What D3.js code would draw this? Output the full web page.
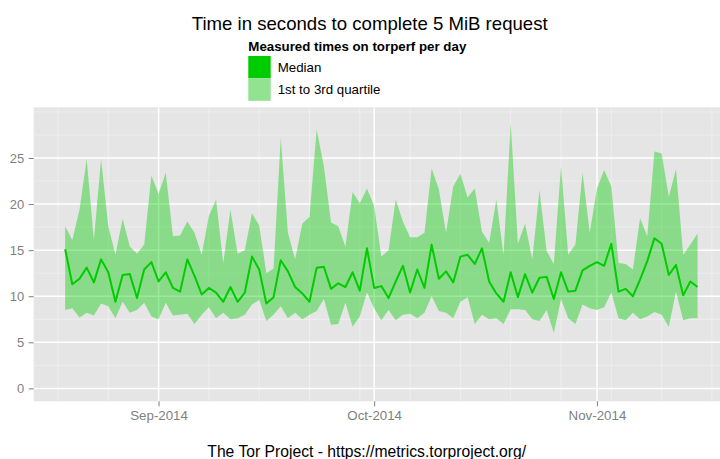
<!DOCTYPE html>
<html>
<head>
<meta charset="utf-8">
<script src="https://cdn.jsdelivr.net/npm/d3@7"></script>
<style>
  body { margin: 0; background: #ffffff; }
  svg { display: block; }
  text { font-family: "Liberation Sans", Arial, Helvetica, sans-serif; }
</style>
</head>
<body>
<svg id="chart" width="720" height="459"></svg>
<script>
// Torperf daily measurements: seconds to complete a 5 MiB request
const firstDay = "2014-08-19";

const median = [
  15.1, 11.3, 11.9, 13.1, 11.5, 14.0, 12.6, 9.4, 12.3, 12.4,
  9.8, 12.9, 13.7, 11.6, 12.6, 10.9, 10.5, 14.0, 12.2, 10.2,
  10.9, 10.4, 9.4, 11.0, 9.4, 10.4, 14.3, 12.9, 9.2, 9.9,
  13.9, 12.7, 11.0, 10.3, 9.4, 13.1, 13.2, 10.8, 11.4, 11.0,
  12.6, 10.6, 15.2, 10.9, 11.1, 9.8, 11.6, 13.3, 10.4, 12.9,
  10.9, 15.6, 11.9, 12.7, 11.5, 14.3, 14.5, 13.5, 15.2, 11.6,
  10.3, 9.4, 12.6, 9.9, 12.4, 10.4, 12.0, 12.1, 9.7, 12.6,
  10.5, 10.6, 12.8, 13.3, 13.7, 13.3, 15.7, 10.5, 10.8, 10.0,
  11.8, 13.8, 16.3, 15.7, 12.3, 13.4, 10.1, 11.6, 11.0
];

const q1 = [
  8.5, 8.7, 7.7, 8.2, 7.9, 9.2, 8.9, 7.6, 9.4, 8.2,
  8.5, 9.3, 7.8, 7.5, 9.3, 7.9, 8.0, 8.1, 7.0, 8.0,
  8.8, 7.6, 8.2, 7.5, 7.6, 8.0, 9.1, 9.6, 7.3, 8.0,
  8.9, 7.6, 8.2, 7.5, 8.0, 8.4, 9.7, 6.9, 7.0, 9.3,
  6.7, 7.8, 10.4, 8.7, 7.4, 8.5, 7.4, 8.0, 8.1, 7.6,
  8.2, 10.0, 8.4, 8.2, 7.6, 9.4, 9.9, 7.0, 8.0, 7.5,
  7.6, 7.0, 8.6, 8.6, 8.5, 7.5, 7.3, 8.5, 6.0, 9.7,
  7.6, 7.0, 9.1, 8.7, 8.5, 8.8, 10.4, 7.6, 7.4, 8.2,
  7.5, 7.8, 8.3, 8.0, 6.7, 10.5, 7.4, 7.6, 7.6
];

const q3 = [
  17.6, 16.1, 19.4, 24.9, 16.1, 24.9, 17.6, 14.5, 18.4, 15.4,
  14.6, 15.6, 23.1, 21.1, 23.4, 16.5, 16.6, 18.1, 16.9, 14.5,
  18.7, 20.5, 13.6, 19.4, 14.6, 15.0, 19.0, 17.7, 12.5, 13.0,
  27.2, 16.9, 14.0, 17.9, 18.6, 28.1, 24.1, 18.0, 17.6, 15.4,
  21.3, 20.1, 21.7, 19.8, 14.3, 15.0, 20.5, 18.1, 16.4, 16.4,
  16.9, 23.9, 21.6, 16.9, 21.9, 23.3, 20.7, 21.7, 17.0, 15.8,
  20.5, 14.5, 28.8, 15.7, 17.9, 14.0, 21.5, 14.9, 13.5, 24.1,
  14.5, 15.6, 23.4, 16.9, 21.7, 23.7, 21.9, 13.6, 13.5, 12.9,
  18.5, 16.5, 25.7, 25.5, 20.8, 23.8, 14.5, 15.6, 16.8
];

const yTicks = [0, 5, 10, 15, 20, 25];
const xTickDates = ["2014-09-01", "2014-10-01", "2014-11-01"];

const titleText = "Time in seconds to complete 5 MiB request";
const legendTitle = "Measured times on torperf per day";
const legendLabels = ["Median", "1st to 3rd quartile"];
const footerText = "The Tor Project - https://metrics.torproject.org/";

const lineColor = "#00CC00";
const ribbonAlpha = 0.4;

// ---- layout ----
const svg = d3.select("#chart");
const panel = { left: 33.7, right: 729, top: 107.3, bottom: 401.3 };

const parse = d3.utcParse("%Y-%m-%d");
const start = parse(firstDay);
const rows = median.map((m, i) => ({
  date: d3.utcDay.offset(start, i),
  median: m, q1: q1[i], q3: q3[i]
}));
const end = rows[rows.length - 1].date;

const x = d3.scaleUtc()
  .domain([d3.utcHour.offset(start, -105), d3.utcHour.offset(end, 105)])
  .range([panel.left, panel.right]);

const y = d3.scaleLinear()
  .domain([-1.4, 30.5])
  .range([panel.bottom, panel.top]);

svg.append("rect").attr("width", 720).attr("height", 459).attr("fill", "#ffffff");

svg.append("defs").append("clipPath").attr("id", "panel-clip")
  .append("rect")
  .attr("x", panel.left).attr("y", panel.top)
  .attr("width", panel.right - panel.left)
  .attr("height", panel.bottom - panel.top);

// panel background
svg.append("rect")
  .attr("x", panel.left).attr("y", panel.top)
  .attr("width", panel.right - panel.left)
  .attr("height", panel.bottom - panel.top)
  .attr("fill", "#E5E5E5");

const grid = svg.append("g").attr("clip-path", "url(#panel-clip)");

// minor grid: weekly (Mondays) and every 2.5 s
const minorX = d3.utcMonday.range(x.domain()[0], x.domain()[1]);
const majorX = xTickDates.map(parse);
const minorY = d3.range(2.5, 31, 2.5).filter(v => !yTicks.includes(v));

grid.selectAll(".minor-x").data(minorX).join("line")
  .attr("x1", d => x(d)).attr("x2", d => x(d))
  .attr("y1", panel.top).attr("y2", panel.bottom)
  .attr("stroke", "#F2F2F2").attr("stroke-width", 0.7);

grid.selectAll(".minor-y").data(minorY).join("line")
  .attr("x1", panel.left).attr("x2", panel.right)
  .attr("y1", d => y(d)).attr("y2", d => y(d))
  .attr("stroke", "#F2F2F2").attr("stroke-width", 0.7);

grid.selectAll(".major-x").data(majorX).join("line")
  .attr("x1", d => x(d)).attr("x2", d => x(d))
  .attr("y1", panel.top).attr("y2", panel.bottom)
  .attr("stroke", "#ffffff").attr("stroke-width", 1.5);

grid.selectAll(".major-y").data(yTicks).join("line")
  .attr("x1", panel.left).attr("x2", panel.right)
  .attr("y1", d => y(d)).attr("y2", d => y(d))
  .attr("stroke", "#ffffff").attr("stroke-width", 1.5);

// quartile ribbon
const area = d3.area()
  .x(d => x(d.date))
  .y0(d => y(d.q1))
  .y1(d => y(d.q3));

grid.append("path")
  .datum(rows)
  .attr("d", area)
  .attr("fill", lineColor)
  .attr("fill-opacity", ribbonAlpha);

// median line
const line = d3.line()
  .x(d => x(d.date))
  .y(d => y(d.median));

grid.append("path")
  .datum(rows)
  .attr("d", line)
  .attr("fill", "none")
  .attr("stroke", lineColor)
  .attr("stroke-width", 2)
  .attr("stroke-linejoin", "round");

// axes
const yAxis = svg.append("g")
  .attr("transform", `translate(${panel.left},0)`)
  .call(d3.axisLeft(y).tickValues(yTicks).tickSize(5).tickPadding(4.5));
yAxis.select(".domain").remove();
yAxis.selectAll(".tick line").attr("stroke", "#7F7F7F").attr("stroke-width", 1);
yAxis.selectAll(".tick text")
  .attr("fill", "#7F7F7F")
  .style("font-size", "13px")
  .style("font-family", '"Liberation Sans", Arial, Helvetica, sans-serif');

const xAxis = svg.append("g")
  .attr("transform", `translate(0,${panel.bottom})`)
  .call(d3.axisBottom(x).tickValues(majorX)
    .tickFormat(d3.utcFormat("%b-%Y")).tickSize(5).tickPadding(4));
xAxis.select(".domain").remove();
xAxis.selectAll(".tick line").attr("stroke", "#7F7F7F").attr("stroke-width", 1);
xAxis.selectAll(".tick text")
  .attr("fill", "#7F7F7F")
  .style("font-size", "13.3px")
  .style("font-family", '"Liberation Sans", Arial, Helvetica, sans-serif');

// title
svg.append("text")
  .attr("x", 369.7).attr("y", 29.5)
  .attr("text-anchor", "middle")
  .style("font-size", "18.6px")
  .attr("fill", "#000000")
  .text(titleText);

// legend
const legend = svg.append("g").attr("transform", "translate(248.3,0)");
legend.append("text")
  .attr("x", 0).attr("y", 51)
  .style("font-size", "13.3px")
  .style("font-weight", "bold")
  .text(legendTitle);

const keySize = 22.4;
const keys = legend.selectAll(".key").data(legendLabels).join("g")
  .attr("transform", (d, i) => `translate(0,${56 + i * keySize})`);

keys.append("rect")
  .attr("width", keySize).attr("height", keySize)
  .attr("fill", "#F2F2F2");
keys.append("rect")
  .attr("width", keySize).attr("height", keySize)
  .attr("fill", lineColor)
  .attr("fill-opacity", (d, i) => i === 0 ? 1 : ribbonAlpha);
keys.append("text")
  .attr("x", 29.4).attr("y", keySize / 2)
  .attr("dy", "0.35em")
  .style("font-size", "13.3px")
  .text(d => d);

// footer
svg.append("text")
  .attr("x", 366.7).attr("y", 457)
  .attr("text-anchor", "middle")
  .style("font-size", "15.7px")
  .attr("fill", "#000000")
  .text(footerText);
</script>
</body>
</html>
